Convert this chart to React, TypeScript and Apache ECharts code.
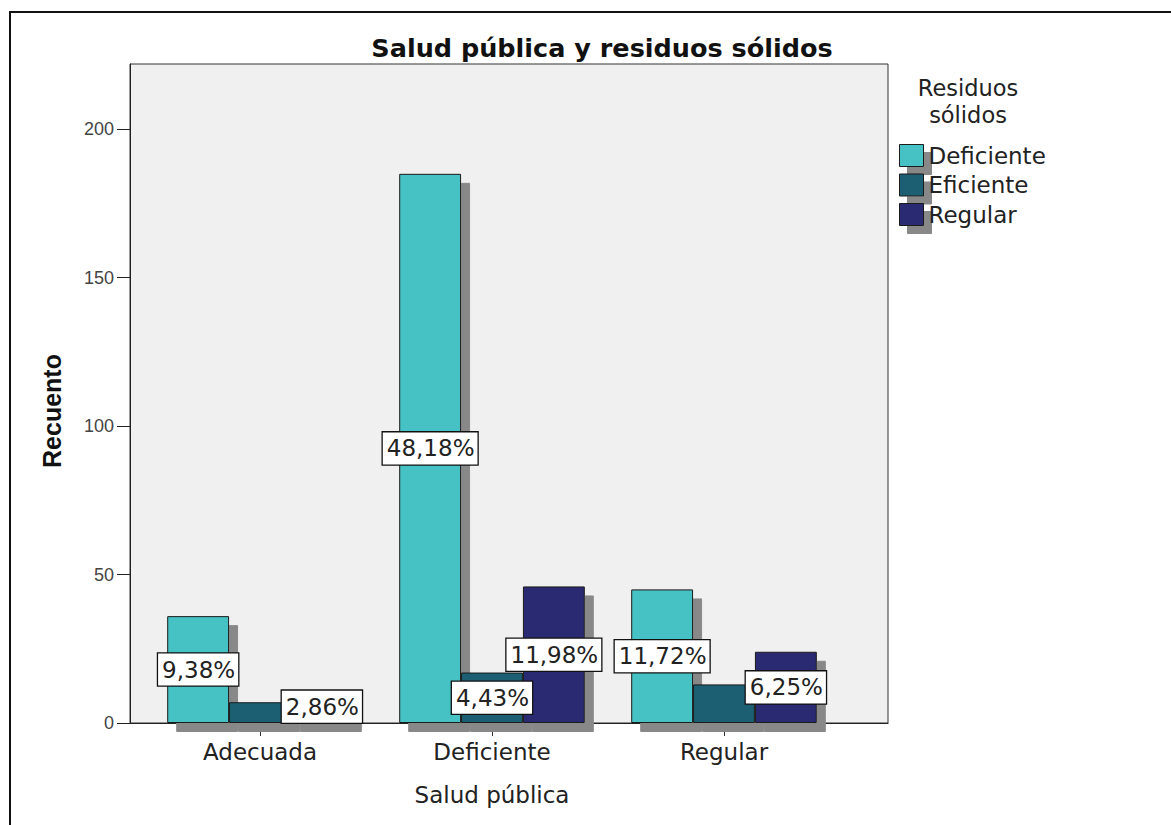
import React, { useEffect, useRef } from "react";
import * as echarts from "echarts";

const categories = ["Adecuada", "Deficiente", "Regular"];
const seriesNames = ["Deficiente", "Eficiente", "Regular"];
const deficienteValues = [36, 185, 45];
const eficienteValues = [7, 17, 13];
const regularValues = [11, 46, 24];
const showLabel = [
  [true, true, true],
  [false, true, false],
  [true, true, true],
];
const total = 384;
const yTicks = [0, 50, 100, 150, 200];
const colors = ["#47c2c4", "#1b5f73", "#2a2a72"];

const FONT = "'DejaVu Sans', Verdana, sans-serif";
const ARIAL = "Arial, 'Liberation Sans', sans-serif";

export default function App() {
  const ref = useRef<HTMLDivElement>(null);
  useEffect(() => {
    if (!ref.current) return;
    const chart = echarts.init(ref.current, null, { renderer: "svg" });
    const allValues = [deficienteValues, eficienteValues, regularValues];
    const fmt = (v: number) => ((v / total) * 100).toFixed(2).replace(".", ",") + "%";
    const series = seriesNames.map((name, si) => ({
      name,
      type: "bar",
      xAxisIndex: 1,
      yAxisIndex: 1,
      clip: false,
      barGap: "0%",
      barCategoryGap: "20%",
      itemStyle: {
        color: colors[si],
        borderColor: "#1a1a1a",
        borderWidth: 1,
        shadowColor: "#888888",
        shadowBlur: 0,
        shadowOffsetX: 9,
        shadowOffsetY: 9,
      },
      data: allValues[si].map((v, ci) => ({
        value: v,
        label: {
          show: showLabel[si][ci],
          position: "inside",
          formatter: () => fmt(v),
          color: "#222",
          fontFamily: FONT,
          fontSize: 23,
          lineHeight: 27,
          backgroundColor: "#ffffff",
          borderColor: "#111",
          borderWidth: 1.3,
          padding: [3, 3, 2, 4],
        },
      })),
    }));
    const legendTitleStyle = {
      align: "center",
      verticalAlign: "middle",
      fill: "#222",
      fontFamily: FONT,
      fontSize: 22.5,
    };
    chart.setOption({
      animation: false,
      backgroundColor: "#ffffff",
      title: {
        text: "Salud pública y residuos sólidos",
        left: 597,
        top: 30,
        textAlign: "center",
        textStyle: {
          fontFamily: FONT,
          fontWeight: "bold",
          fontSize: 25.5,
          color: "#111",
        },
      },
      legend: {
        data: seriesNames,
        orient: "vertical",
        left: 894,
        top: 139,
        itemWidth: 24,
        itemHeight: 22,
        itemGap: 6.5,
        icon: "rect",
        itemStyle: {
          borderColor: "#1a1a1a",
          borderWidth: 1,
          shadowColor: "#888888",
          shadowBlur: 0,
          shadowOffsetX: 8,
          shadowOffsetY: 8,
        },
        textStyle: {
          fontFamily: FONT,
          fontSize: 23,
          lineHeight: 22,
          color: "#222",
        },
        selectedMode: false,
      },
      graphic: [
        { type: "line", shape: { x1: 9, y1: 12, x2: 1171, y2: 12 }, style: { stroke: "#111", lineWidth: 2 } },
        { type: "line", shape: { x1: 10, y1: 11, x2: 10, y2: 825 }, style: { stroke: "#111", lineWidth: 2 } },
        { type: "text", x: 968, y: 87.5, style: { ...legendTitleStyle, text: "Residuos" } },
        { type: "text", x: 968, y: 115, style: { ...legendTitleStyle, text: "sólidos" } },
        {
          type: "text",
          x: 52,
          y: 411,
          rotation: Math.PI / 2,
          style: {
            text: "Recuento",
            align: "center",
            verticalAlign: "middle",
            fill: "#111",
            fontFamily: ARIAL,
            fontWeight: "bold",
            fontSize: 25,
          },
        },
      ],
      grid: [
        {
          left: 130,
          top: 64,
          width: 758,
          height: 659,
          show: true,
          backgroundColor: "#f0f0f0",
          borderColor: "#333",
          borderWidth: 1,
        },
        { left: 144, top: 64, width: 696, height: 659 },
      ],
      xAxis: [
        {
          gridIndex: 0,
          type: "category",
          data: categories,
          axisLine: { show: true, lineStyle: { color: "#222", width: 1 } },
          axisTick: { show: false },
          axisLabel: { show: false },
        },
        {
          gridIndex: 1,
          type: "category",
          data: categories,
          name: "Salud pública",
          nameLocation: "middle",
          nameGap: 60,
          nameTextStyle: {
            fontFamily: FONT,
            fontSize: 23,
            color: "#222",
          },
          axisLine: { show: false },
          axisTick: { show: true, alignWithLabel: true, length: 13, lineStyle: { color: "#333" } },
          axisLabel: {
            margin: 17,
            fontFamily: FONT,
            fontSize: 23,
            color: "#222",
          },
          z: 0,
        },
      ],
      yAxis: [
        {
          gridIndex: 0,
          type: "value",
          min: 0,
          max: 222,
          interval: 50,
          axisLine: { show: true, lineStyle: { color: "#222", width: 1 } },
          axisTick: { show: true, length: 13, lineStyle: { color: "#222" }, customValues: yTicks },
          axisLabel: {
            margin: 16,
            fontFamily: ARIAL,
            fontSize: 18,
            color: "#444",
            customValues: yTicks,
            formatter: (v: number) => (yTicks.includes(v) ? String(v) : ""),
          },
          splitLine: { show: false },
        },
        {
          gridIndex: 1,
          type: "value",
          min: 0,
          max: 222,
          interval: 50,
          show: false,
          splitLine: { show: false },
        },
      ],
      series,
    });
    return () => chart.dispose();
  }, []);
  return (
    <div
      ref={ref}
      style={{ position: "absolute", left: 0, top: 0, width: 1171, height: 825 }}
    />
  );
}
